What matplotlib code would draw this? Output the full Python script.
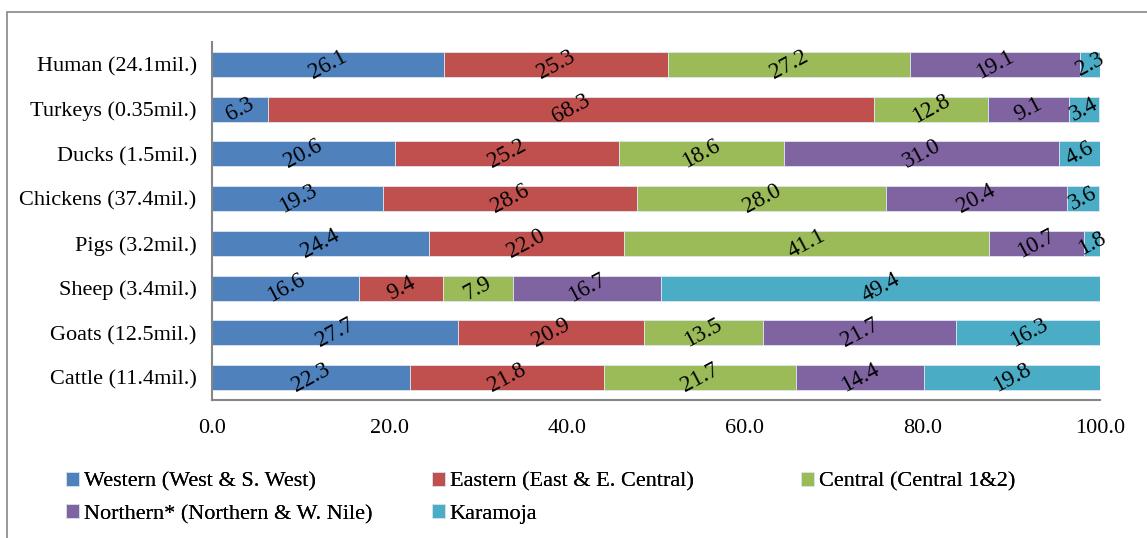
from matplotlib import pyplot as plt
from matplotlib.patches import Rectangle
import numpy as np

categories = ['Human (24.1mil.)', 'Turkeys (0.35mil.)', 'Ducks (1.5mil.)', 'Chickens (37.4mil.)',
              'Pigs (3.2mil.)', 'Sheep (3.4mil.)', 'Goats (12.5mil.)', 'Cattle (11.4mil.)']
regions = ['Western (West & S. West)', 'Eastern (East & E. Central)', 'Central (Central 1&2)',
           'Northern* (Northern & W. Nile)', 'Karamoja']

western = [26.1, 6.3, 20.6, 19.3, 24.4, 16.6, 27.7, 22.3]
eastern = [25.3, 68.3, 25.2, 28.6, 22.0, 9.4, 20.9, 21.8]
central = [27.2, 12.8, 18.6, 28.0, 41.1, 7.9, 13.5, 21.7]
northern = [19.1, 9.1, 31.0, 20.4, 10.7, 16.7, 21.7, 14.4]
karamoja = [2.3, 3.4, 4.6, 3.6, 1.8, 49.4, 16.3, 19.8]

colors = ['#4F81BD', '#C0504D', '#9BBB59', '#8064A2', '#4BACC6']

plt.rcParams['font.family'] = 'Liberation Serif'
plt.rcParams['font.size'] = 16

W, H = 1147, 538
fig = plt.figure(figsize=(W / 100, H / 100), dpi=100)
ax = fig.add_axes([212 / W, 1 - 400 / H, 888 / W, 358 / H])

# outer frame
fig.patches.append(Rectangle((7 / W, -0.1), 1.2, 1 - 12 / H + 0.1, transform=fig.transFigure,
                             fill=False, edgecolor='#868686', linewidth=1.2))

y = np.arange(len(categories))[::-1]
left = np.zeros(len(categories))
handles = []
for name, vals, c in zip(regions, [western, eastern, central, northern, karamoja], colors):
    vals = np.array(vals)
    b = ax.barh(y, vals, left=left, height=0.56, color=c, edgecolor='#dde6f0', linewidth=0.6, label=name)
    handles.append(b)
    for yi, l, v in zip(y, left, vals):
        ax.text(l + v / 2, yi, format(v, '.1f'), ha='center', va='center', rotation=28, fontsize=16.5)
    left += vals

ax.set_xlim(0, 100)
ax.set_ylim(-0.5, 7.5)
ax.set_xticks(np.arange(0, 101, 20))
ax.set_xticklabels([format(t, '.1f') for t in np.arange(0, 101, 20)])
ax.set_yticks(y)
ax.set_yticklabels(categories)
ax.tick_params(length=0)
ax.tick_params(axis='x', pad=14)
ax.tick_params(axis='y', pad=11)
for s in ['top', 'right']:
    ax.spines[s].set_visible(False)
for s in ['left', 'bottom']:
    ax.spines[s].set_color('#868686')
    ax.spines[s].set_linewidth(1.5)

# legend laid out in rows: three columns placed by hand
cols = [([0, 3], 66), ([1, 4], 432), ([2], 801)]
for idx, x0 in cols:
    leg = fig.legend([handles[i] for i in idx], [regions[i] for i in idx], loc='upper left',
                     bbox_to_anchor=(x0 / W, 1 - 472 / H), frameon=False, borderpad=0, borderaxespad=0,
                     handlelength=0.6, handleheight=0.6, handletextpad=0.2, labelspacing=0.55,
                     fontsize=16)
    fig.add_artist(leg)

plt.savefig('out.png', dpi=100)
